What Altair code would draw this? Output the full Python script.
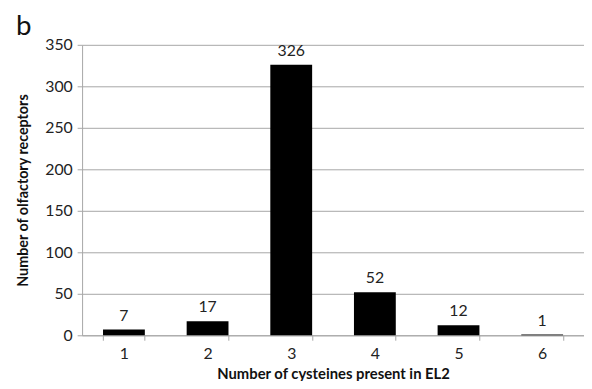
import altair as alt
import pandas as pd

categories = ["1", "2", "3", "4", "5", "6"]
counts = [7, 17, 326, 52, 12, 1]
y_ticks = [0, 50, 100, 150, 200, 250, 300, 350]

df = pd.DataFrame({"cys": categories, "n": counts})

FONT = "Lato"
GRID = "#a6a6a6"

base = alt.Chart(df).encode(
    x=alt.X("cys:N", sort=categories,
            scale=alt.Scale(paddingInner=0.5, paddingOuter=0.25),
            axis=alt.Axis(title="Number of cysteines present in EL2", labelAngle=0,
                          tickBand="extent", tickSize=5, tickColor=GRID,
                          domainColor=GRID, labelFontSize=16, labelPadding=5,
                          titleFontSize=15, titleFontWeight="bold", titlePadding=6,
                          labelColor="#222", titleColor="#111")),
    y=alt.Y("n:Q", scale=alt.Scale(domain=[0, 350], nice=False),
            axis=alt.Axis(title="Number of olfactory receptors", values=y_ticks,
                          tickSize=5, tickColor=GRID, domainColor=GRID,
                          gridColor=GRID, grid=True, labelFontSize=16, labelPadding=5,
                          titleFontSize=14.5, titleFontWeight="bold", titlePadding=14,
                          labelColor="#222", titleColor="#111")),
)

bars = base.mark_bar(color="black")
labels = base.mark_text(baseline="bottom", dy=-6, fontSize=16, font=FONT, color="#222").encode(
    text="n:Q")

chart = (bars + labels).properties(
    width=508, height=294,
    autosize=alt.AutoSizeParams(type="none"),
    padding={"left": 75, "top": 35, "right": 0, "bottom": 44},
    title=alt.TitleParams("b", anchor="start", frame="bounds", fontSize=28,
                          fontWeight="normal", font=FONT, offset=-4, color="#111"),
).configure_axis(labelFont=FONT, titleFont=FONT).configure_view(stroke=None)

chart.save("out.html", embed_options={"renderer": "svg", "actions": False})
